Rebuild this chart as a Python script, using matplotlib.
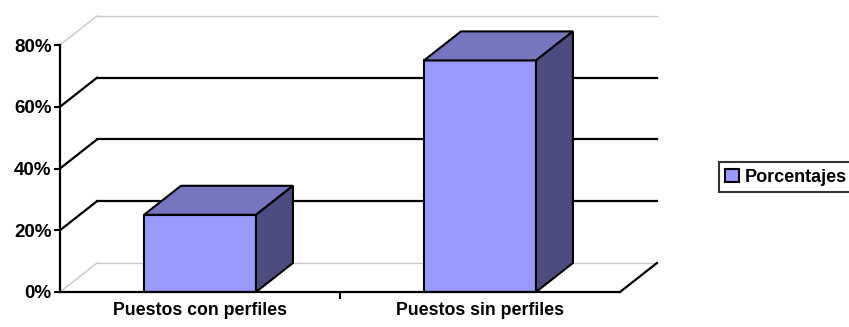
import matplotlib.pyplot as plt
from matplotlib.patches import Polygon
from matplotlib.ticker import PercentFormatter

# Data
categories = ["Puestos con perfiles", "Puestos sin perfiles"]
porcentajes = [25, 75]
series_name = "Porcentajes"
yticks = [0, 20, 40, 60, 80]

plt.rcParams["font.family"] = ["Liberation Sans", "DejaVu Sans"]
plt.rcParams["font.weight"] = "bold"

front = "#9999FF"
top = "#7676C0"
side = "#4C4C80"
grey = "#C8C8C8"

fig = plt.figure(figsize=(8.49, 3.27), dpi=100)
ax = fig.add_axes([60 / 849, 35 / 327, 560 / 849, 247 / 327])
ax.set_xlim(0, len(categories))
ax.set_ylim(0, 80)

# depth offset of the 3-D box (data units)
dx, dy = 0.132, 9.4
n = len(categories)

# back wall gridlines and left side wall diagonals
for v in yticks:
    c = grey if v in (0, 80) else "black"
    lw = 1 if v in (0, 80) else 1.6
    ax.plot([dx, n + dx], [v + dy, v + dy], color=c, lw=lw, clip_on=False, zorder=1)
    ax.plot([0, dx], [v, v + dy], color=c, lw=lw, clip_on=False, zorder=1)

# floor right edge
ax.plot([n, n + dx], [0, dy], color="black", lw=1.6, clip_on=False, zorder=1)

# bars
w = 0.4
for i, val in enumerate(porcentajes):
    x0 = i + 0.5 - w / 2
    x1 = x0 + w
    ax.bar(i + 0.5, val, width=w, color=front, edgecolor="black", linewidth=1.5, zorder=3)
    ax.add_patch(Polygon([(x0, val), (x1, val), (x1 + dx, val + dy), (x0 + dx, val + dy)],
                         closed=True, facecolor=top, edgecolor="black", lw=1.5,
                         clip_on=False, zorder=3))
    ax.add_patch(Polygon([(x1, 0), (x1 + dx, dy), (x1 + dx, val + dy), (x1, val)],
                         closed=True, facecolor=side, edgecolor="black", lw=1.5,
                         clip_on=False, zorder=3))

for s in ["top", "right"]:
    ax.spines[s].set_visible(False)
ax.spines["left"].set_linewidth(1.6)
ax.spines["bottom"].set_linewidth(1.6)
ax.spines["bottom"].set_zorder(4)

ax.set_yticks(yticks)
ax.yaxis.set_major_formatter(PercentFormatter(decimals=0))
ax.tick_params(axis="y", length=4, width=1.5, pad=2, labelsize=13.5)
ax.set_xticks([i + 0.5 for i in range(n)])
ax.set_xticklabels(categories, fontsize=12.8, fontweight="bold")
ax.set_xticks([1], minor=True)
ax.tick_params(axis="x", which="major", length=0, pad=7)
ax.tick_params(axis="x", which="minor", length=5, width=1.5)
for t in ax.get_yticklabels():
    t.set_fontweight("bold")

h = plt.Rectangle((0, 0), 1, 1, facecolor=front, edgecolor="black", lw=1.5)
leg = fig.legend([h], [series_name], loc="center left", bbox_to_anchor=(719 / 849, 150 / 327),
                 frameon=True, fancybox=False, fontsize=13, handlelength=0.75,
                 handleheight=0.75, handletextpad=0.35, borderpad=0.35, borderaxespad=0)
leg.get_frame().set_edgecolor("black")
leg.get_frame().set_linewidth(1.5)
for t in leg.get_texts():
    t.set_fontweight("bold")

fig.savefig("out.png", dpi=100)
